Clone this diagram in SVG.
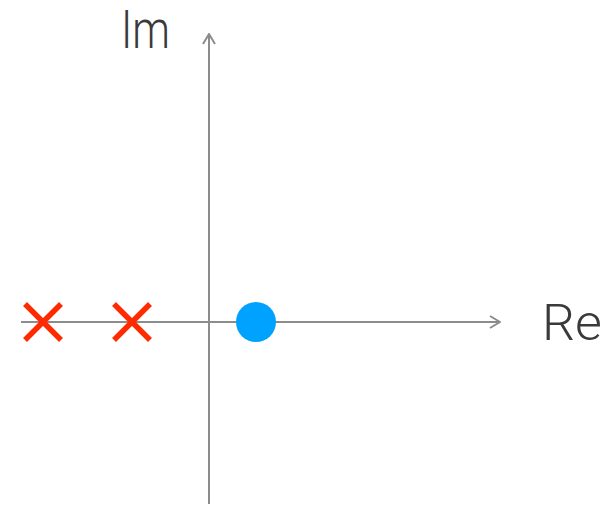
<svg xmlns="http://www.w3.org/2000/svg" width="616" height="505" viewBox="0 0 616 505">
<style>
.axis{stroke:#8c8c8c;stroke-width:2;fill:none}
.lbl{font-family:Roboto,"Liberation Sans",sans-serif;font-weight:300;fill:#3a3a3a}
.x{stroke:#ff2a00;stroke-width:5.5;stroke-linecap:butt}
</style>
<defs>
<marker id="arr" viewBox="0 0 12 14" refX="11" refY="7" markerWidth="12" markerHeight="14" markerUnits="userSpaceOnUse" orient="auto">
<path d="M1,1 L11,7 L1,13" fill="none" stroke="#8c8c8c" stroke-width="2"/>
</marker>
</defs>
<rect width="616" height="505" fill="#fff"/>
<g id="connectors">
<line class="axis" x1="21" y1="322" x2="500" y2="322" marker-end="url(#arr)"/>
<line class="axis" x1="209" y1="504" x2="209" y2="34" marker-end="url(#arr)"/>
</g>
<g id="label-im"><text class="lbl" x="121" y="48" font-size="53" textLength="49" lengthAdjust="spacingAndGlyphs">Im</text></g>
<g id="label-re"><text class="lbl" x="542" y="340" font-size="50" textLength="60" lengthAdjust="spacingAndGlyphs">Re</text></g>
<g id="pole1"><line class="x" x1="25" y1="304" x2="61" y2="340"/><line class="x" x1="61" y1="304" x2="25" y2="340"/></g>
<g id="pole2"><line class="x" x1="114" y1="304" x2="150" y2="340"/><line class="x" x1="150" y1="304" x2="114" y2="340"/></g>
<g id="zero"><circle cx="256" cy="322" r="20" fill="#00a2ff"/></g>
</svg>
